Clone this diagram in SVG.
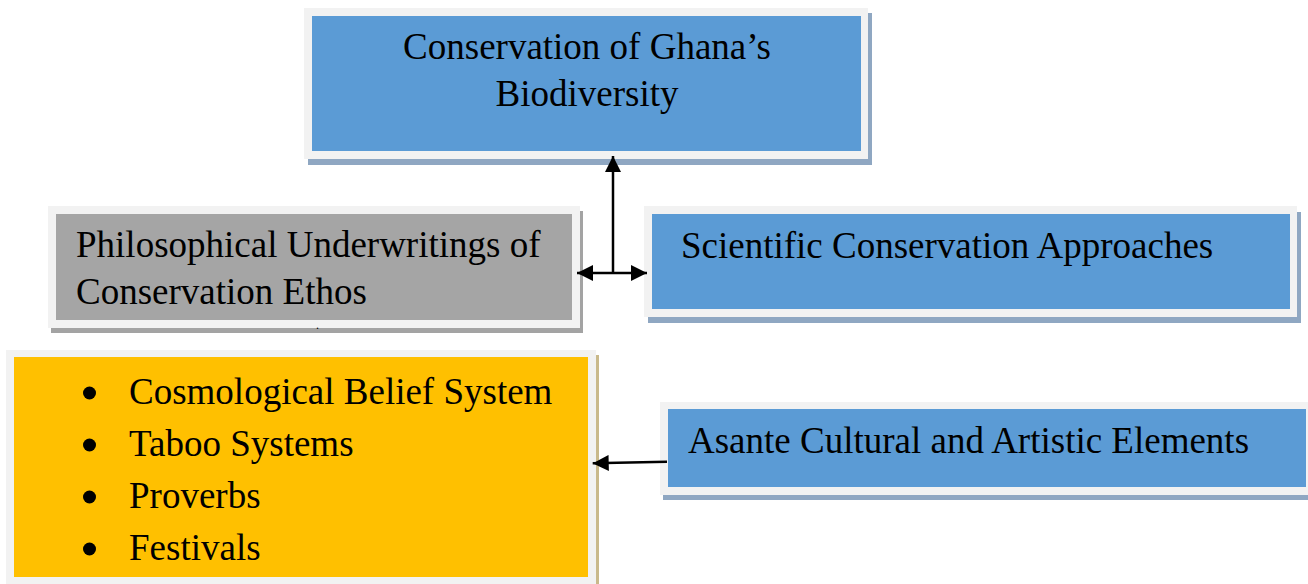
<svg xmlns="http://www.w3.org/2000/svg" width="1308" height="584" viewBox="0 0 1308 584">
  <style>
    .frame { fill: #f2f2f2; }
    .shadow-blue { fill: #8fa7c2; }
    .shadow-gray { fill: #a3a3a3; }
    .shadow-tan { fill: #c9b98b; }
    .blue { fill: #5b9bd5; }
    .gray { fill: #a5a5a5; }
    .yellow { fill: #ffc000; }
    .label { font-family: "Liberation Serif", "Times New Roman", serif; font-size: 37px; fill: #000000; }
    .link { stroke: #000000; stroke-width: 2.5; fill: none; }
  </style>
  <defs>
    <marker id="head" markerUnits="userSpaceOnUse" markerWidth="16" markerHeight="16" refX="16" refY="8" orient="auto">
      <path d="M0,0 L16,8 L0,16 Z" fill="#000000"/>
    </marker>
  </defs>
  <rect width="1308" height="584" fill="#ffffff"/>

  <!-- top goal box -->
  <g id="node-biodiversity">
    <rect class="shadow-blue" x="308" y="13" width="564" height="152"/>
    <rect class="frame" x="304" y="8" width="564" height="151"/>
    <rect class="blue" x="312" y="16" width="549" height="135"/>
    <text class="label" x="587" y="58.5" text-anchor="middle">Conservation of Ghana’s</text>
    <text class="label" x="587" y="106" text-anchor="middle">Biodiversity</text>
  </g>

  <!-- philosophical underpinnings box -->
  <g id="node-philosophical">
    <rect class="shadow-gray" x="51" y="211" width="532" height="122"/>
    <rect class="frame" x="48" y="206" width="532" height="122"/>
    <rect class="gray" x="56" y="214" width="516" height="106"/>
    <text class="label" x="76" y="257">Philosophical Underwritings of</text>
    <text class="label" x="76" y="304">Conservation Ethos</text>
    <text x="316" y="329" font-family="Liberation Serif, serif" font-size="12" fill="#000000">.</text>
  </g>

  <!-- scientific approaches box -->
  <g id="node-scientific">
    <rect class="shadow-blue" x="648" y="212" width="653" height="111"/>
    <rect class="frame" x="644" y="206" width="653" height="111"/>
    <rect class="blue" x="652" y="214" width="638" height="95"/>
    <text class="label" x="681" y="258">Scientific Conservation Approaches</text>
  </g>

  <!-- list of belief elements -->
  <g id="node-elements">
    <rect class="shadow-tan" x="9" y="355" width="590" height="240"/>
    <rect class="frame" x="6" y="350" width="590" height="240"/>
    <rect class="yellow" x="14" y="357" width="574" height="220"/>
    <circle cx="89.5" cy="393" r="6.5" fill="#000000"/>
    <circle cx="89.5" cy="445" r="6.5" fill="#000000"/>
    <circle cx="89.5" cy="497" r="6.5" fill="#000000"/>
    <circle cx="89.5" cy="549" r="6.5" fill="#000000"/>
    <text class="label" x="129" y="404">Cosmological Belief System</text>
    <text class="label" x="129" y="456">Taboo Systems</text>
    <text class="label" x="129" y="508">Proverbs</text>
    <text class="label" x="129" y="560">Festivals</text>
  </g>

  <!-- Asante elements box -->
  <g id="node-asante">
    <rect class="shadow-blue" x="663" y="407" width="660" height="93"/>
    <rect class="frame" x="660" y="402" width="660" height="93"/>
    <rect class="blue" x="668" y="409" width="638" height="78"/>
    <text class="label" x="688" y="453">Asante Cultural and Artistic Elements</text>
  </g>

  <!-- connectors -->
  <g id="connectors">
    <line class="link" x1="613" y1="273" x2="613" y2="156" marker-end="url(#head)"/>
    <line class="link" x1="613" y1="273" x2="577" y2="273" marker-end="url(#head)"/>
    <line class="link" x1="613" y1="273" x2="647" y2="273" marker-end="url(#head)"/>
    <line class="link" x1="667" y1="461.7" x2="592.7" y2="463.3" marker-end="url(#head)"/>
  </g>
</svg>
